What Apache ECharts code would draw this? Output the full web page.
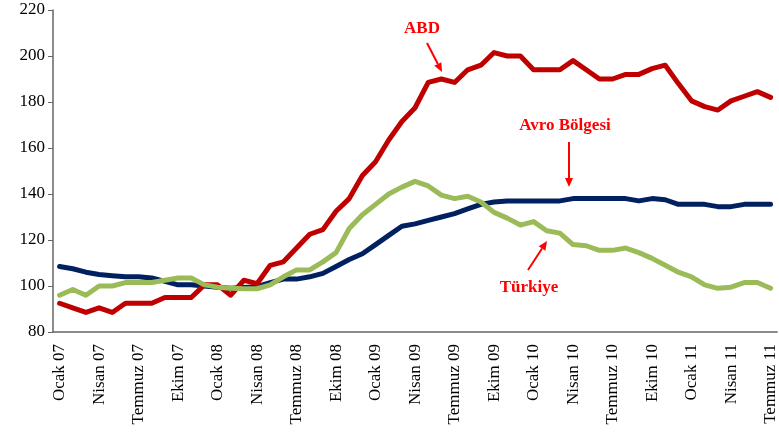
<!DOCTYPE html>
<html>
<head>
<meta charset="utf-8">
<script src="https://cdn.jsdelivr.net/npm/echarts@6/dist/echarts.min.js"></script>
<style>
  html, body { margin: 0; padding: 0; background: #fff; }
  #chart { width: 779px; height: 437px; }
</style>
</head>
<body>
<div id="chart"></div>
<script>
  // aylar: Ocak 07 - Temmuz 11
  const monthNames = ['Ocak', 'Şubat', 'Mart', 'Nisan', 'Mayıs', 'Haziran', 'Temmuz', 'Ağustos', 'Eylül', 'Ekim', 'Kasım', 'Aralık']
  const years = ['07', '08', '09', '10', '11']
  const categories = []
  for (let y = 0; y < years.length; y++) {
    for (let m = 0; m < 12; m++) {
      if (y === 4 && m > 6) break
      categories.push(monthNames[m] + ' ' + years[y])
    }
  }

  const abd = [
    92.5, 90.5, 88.5, 90.5, 88.5, 92.5, 92.5, 92.5, 95, 95, 95, 100.5,
    100.5, 96, 102.5, 101, 109, 110.5, 116.5, 122.5, 124.5, 132.5, 138, 148,
    154, 163.5, 171.5, 177.5, 188.5, 190, 188.5, 194, 196, 201.5, 200, 200,
    194, 194, 194, 198, 194, 190, 190, 192, 192, 194.5, 196, 188,
    180.5, 178, 176.5, 180.5, 182.5, 184.5, 182
  ]
  const avro = [
    108.5, 107.5, 106, 105, 104.5, 104, 104, 103.5, 102, 100.5, 100.5, 100,
    99.5, 99, 99.3, 99.7, 101.5, 103, 103, 104, 105.5, 108.5, 111.5, 114,
    118, 122, 126, 127, 128.5, 130, 131.5, 133.5, 135.5, 136.5, 137, 137,
    137, 137, 137, 138, 138, 138, 138, 138, 137, 138, 137.5, 135.5,
    135.5, 135.5, 134.5, 134.5, 135.5, 135.5, 135.5
  ]
  const turkiye = [
    96, 98.5, 96, 100, 100, 101.5, 101.5, 101.5, 102.5, 103.5, 103.5, 100.5,
    99.5, 99, 98.8, 98.8, 100.5, 104, 107, 107, 110.5, 114.5, 125, 131,
    135.5, 140, 143, 145.5, 143.5, 139.5, 138, 139, 136.5, 132, 129.5, 126.5,
    128, 124, 123, 118, 117.5, 115.5, 115.5, 116.5, 114.5, 112, 109, 106,
    104, 100.5, 99, 99.5, 101.5, 101.5, 99
  ]

  const serif = '"Liberation Serif", "Times New Roman", serif'
  const noteColor = '#ff0000'

  // ok: çizgi + üçgen uç
  function arrow(x1, y1, x2, y2) {
    const ang = Math.atan2(y2 - y1, x2 - x1)
    const len = 9, half = 4
    const bx = x2 - len * Math.cos(ang), by = y2 - len * Math.sin(ang)
    const px = -Math.sin(ang) * half, py = Math.cos(ang) * half
    return [
      { type: 'line', silent: true, shape: { x1: x1, y1: y1, x2: bx, y2: by }, style: { stroke: noteColor, lineWidth: 2 } },
      { type: 'polygon', silent: true, shape: { points: [[x2, y2], [bx + px, by + py], [bx - px, by - py]] }, style: { fill: noteColor } }
    ]
  }
  function note(text, x, y) {
    return {
      type: 'text', silent: true, x: x, y: y,
      style: { text: text, fill: noteColor, font: 'bold 17px ' + serif, textAlign: 'center', textVerticalAlign: 'middle' }
    }
  }

  function lineSeries(name, data, color) {
    return {
      name: name,
      type: 'line',
      data: data,
      symbol: 'none',
      lineStyle: { color: color, width: 5, cap: 'round', join: 'round' },
      itemStyle: { color: color }
    }
  }

  const chart = echarts.init(document.getElementById('chart'))
  chart.setOption({
    animation: false,
    grid: { left: 53, right: -2, top: 10, bottom: 105 },
    xAxis: {
      type: 'category',
      data: categories,
      boundaryGap: true,
      axisLine: { lineStyle: { color: '#666', width: 1.5 } },
      axisTick: { interval: 2, length: 5, lineStyle: { color: '#666' } },
      axisLabel: { interval: 2, rotate: 90, margin: 12, color: '#000', fontFamily: serif, fontSize: 17 }
    },
    yAxis: {
      type: 'value',
      min: 80,
      max: 220,
      interval: 20,
      splitLine: { show: false },
      axisLine: { show: true, lineStyle: { color: '#666', width: 1.5 } },
      axisTick: { show: true, length: 5, lineStyle: { color: '#666' } },
      axisLabel: { margin: 8, color: '#000', fontFamily: serif, fontSize: 17 }
    },
    // sıra: mavi altta, yeşil en üstte
    series: [
      lineSeries('Avro Bölgesi', avro, '#002060'),
      lineSeries('ABD', abd, '#c00000'),
      lineSeries('Türkiye', turkiye, '#9bbb59')
    ],
    graphic: [
      note('ABD', 422, 29),
      note('Avro Bölgesi', 565, 126),
      note('Türkiye', 529, 288)
    ].concat(arrow(427, 43, 442, 72), arrow(569, 142, 569, 187), arrow(528, 270, 547, 241))
  })
</script>
</body>
</html>
